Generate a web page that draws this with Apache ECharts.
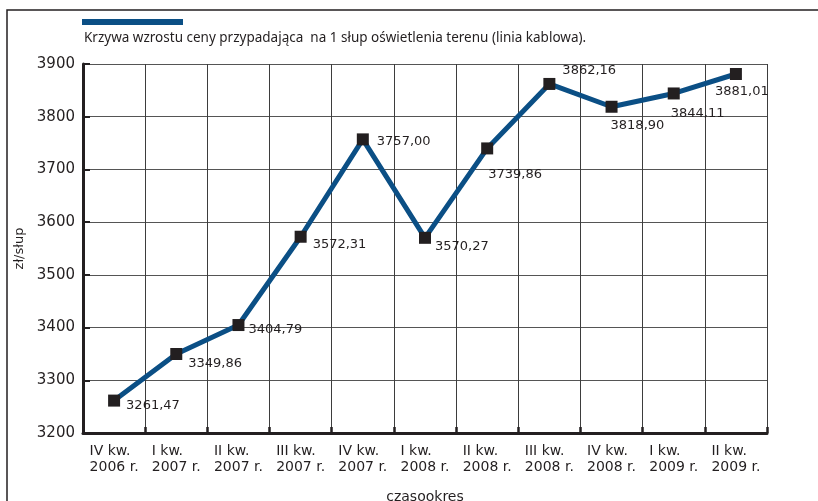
<!DOCTYPE html>
<html>
<head>
<meta charset="utf-8">
<script src="https://cdn.jsdelivr.net/npm/echarts@6/dist/echarts.min.js"></script>
<style>
  html, body { margin: 0; padding: 0; background: #ffffff; }
  #chart { width: 818px; height: 501px; }
</style>
</head>
<body>
<div id="chart"></div>
<script>
// Quarterly price per lighting pole (cable line), PLN
const quarters = [
  ['IV kw.', '2006 r.'], ['I kw.', '2007 r.'], ['II kw.', '2007 r.'], ['III kw.', '2007 r.'],
  ['IV kw.', '2007 r.'], ['I kw.', '2008 r.'], ['II kw.', '2008 r.'], ['III kw.', '2008 r.'],
  ['IV kw.', '2008 r.'], ['I kw.', '2009 r.'], ['II kw.', '2009 r.']
];
const pricePerPole = [3261.47, 3349.86, 3404.79, 3572.31, 3757.00, 3570.27, 3739.86, 3862.16, 3818.90, 3844.11, 3881.01];
const seriesName = 'Krzywa wzrostu ceny przypadająca  na 1 słup oświetlenia terenu (linia kablowa).';
const yAxisName = 'zł/słup';
const xAxisName = 'czasookres';

// Where each value label sits relative to its marker
const labelShift = [[1, 5], [1, 10], [-1, 5], [1, 8], [3, 2], [-1, 9], [-10, 26], [2, -13], [-12, 19], [-14, 20], [-32, 18]];

const INK = '#231f20';
const BLUE = '#0b4f85';
const FONT = 'DejaVu Sans';

const chart = echarts.init(document.getElementById('chart'), null, { renderer: 'canvas' });

const categories = quarters.map(q => q.join('\n'));

chart.setOption({
  animation: false,
  backgroundColor: '#ffffff',
  title: {
    text: seriesName,
    left: 79,
    top: 26,
    textStyle: { fontFamily: 'Noto Sans', fontSize: 13.5, fontWeight: 'normal', color: INK }
  },
  legend: {
    left: 82,
    top: 19,
    padding: 0,
    icon: 'rect',
    itemWidth: 101,
    itemHeight: 6,
    itemGap: 0,
    formatter: () => '',
    selectedMode: false,
    data: [{ name: seriesName, itemStyle: { color: BLUE } }]
  },
  graphic: [{
    type: 'polyline',
    shape: { points: [[7, 501], [7, 10], [818, 10]] },
    style: { stroke: INK, lineWidth: 1.5, fill: null },
    silent: true
  }],
  grid: { left: 83, right: 51, top: 64, bottom: 68, containLabel: false, outerBoundsMode: 'none' },
  xAxis: {
    type: 'category',
    data: categories,
    boundaryGap: true,
    name: xAxisName,
    nameLocation: 'middle',
    nameGap: 57,
    nameTextStyle: { fontFamily: FONT, fontSize: 14, color: INK },
    axisLine: { lineStyle: { color: INK, width: 3 } },
    axisTick: { show: true, inside: true, length: 6, lineStyle: { color: INK, width: 2.5 } },
    axisLabel: {
      interval: 0,
      margin: 10,
      color: INK,
      fontFamily: FONT,
      fontSize: 14,
      lineHeight: 16,
      formatter: v => v.split('\n').map(s => '{l|' + s + '}').join('\n'),
      rich: { l: { align: 'left', fontFamily: FONT, fontSize: 14, lineHeight: 16, color: INK } }
    },
    splitLine: { show: true, lineStyle: { color: '#3d3d3d', width: 1 } }
  },
  yAxis: {
    type: 'value',
    min: 3200,
    max: 3900,
    interval: 100,
    name: yAxisName,
    nameLocation: 'middle',
    nameRotate: 90,
    nameGap: 46,
    nameTextStyle: { fontFamily: FONT, fontSize: 13, color: INK },
    axisLine: { show: true, lineStyle: { color: INK, width: 3 } },
    axisTick: { show: true, inside: true, length: 7, lineStyle: { color: INK, width: 2 } },
    axisLabel: { margin: 8, color: INK, fontFamily: FONT, fontSize: 15, formatter: v => String(v) },
    splitLine: { show: true, lineStyle: { color: '#555555', width: 1 } }
  },
  series: [{
    name: seriesName,
    type: 'line',
    data: pricePerPole.map((v, i) => ({
      value: v,
      label: { offset: labelShift[i] }
    })),
    symbol: 'rect',
    symbolSize: 12,
    showAllSymbol: true,
    lineStyle: { color: BLUE, width: 5 },
    itemStyle: { color: INK, borderWidth: 0 },
    label: {
      show: true,
      position: 'right',
      distance: 5,
      color: INK,
      fontFamily: FONT,
      fontSize: 13,
      formatter: p => p.value.toFixed(2).replace('.', ',')
    },
    z: 3
  }]
});
</script>
</body>
</html>
